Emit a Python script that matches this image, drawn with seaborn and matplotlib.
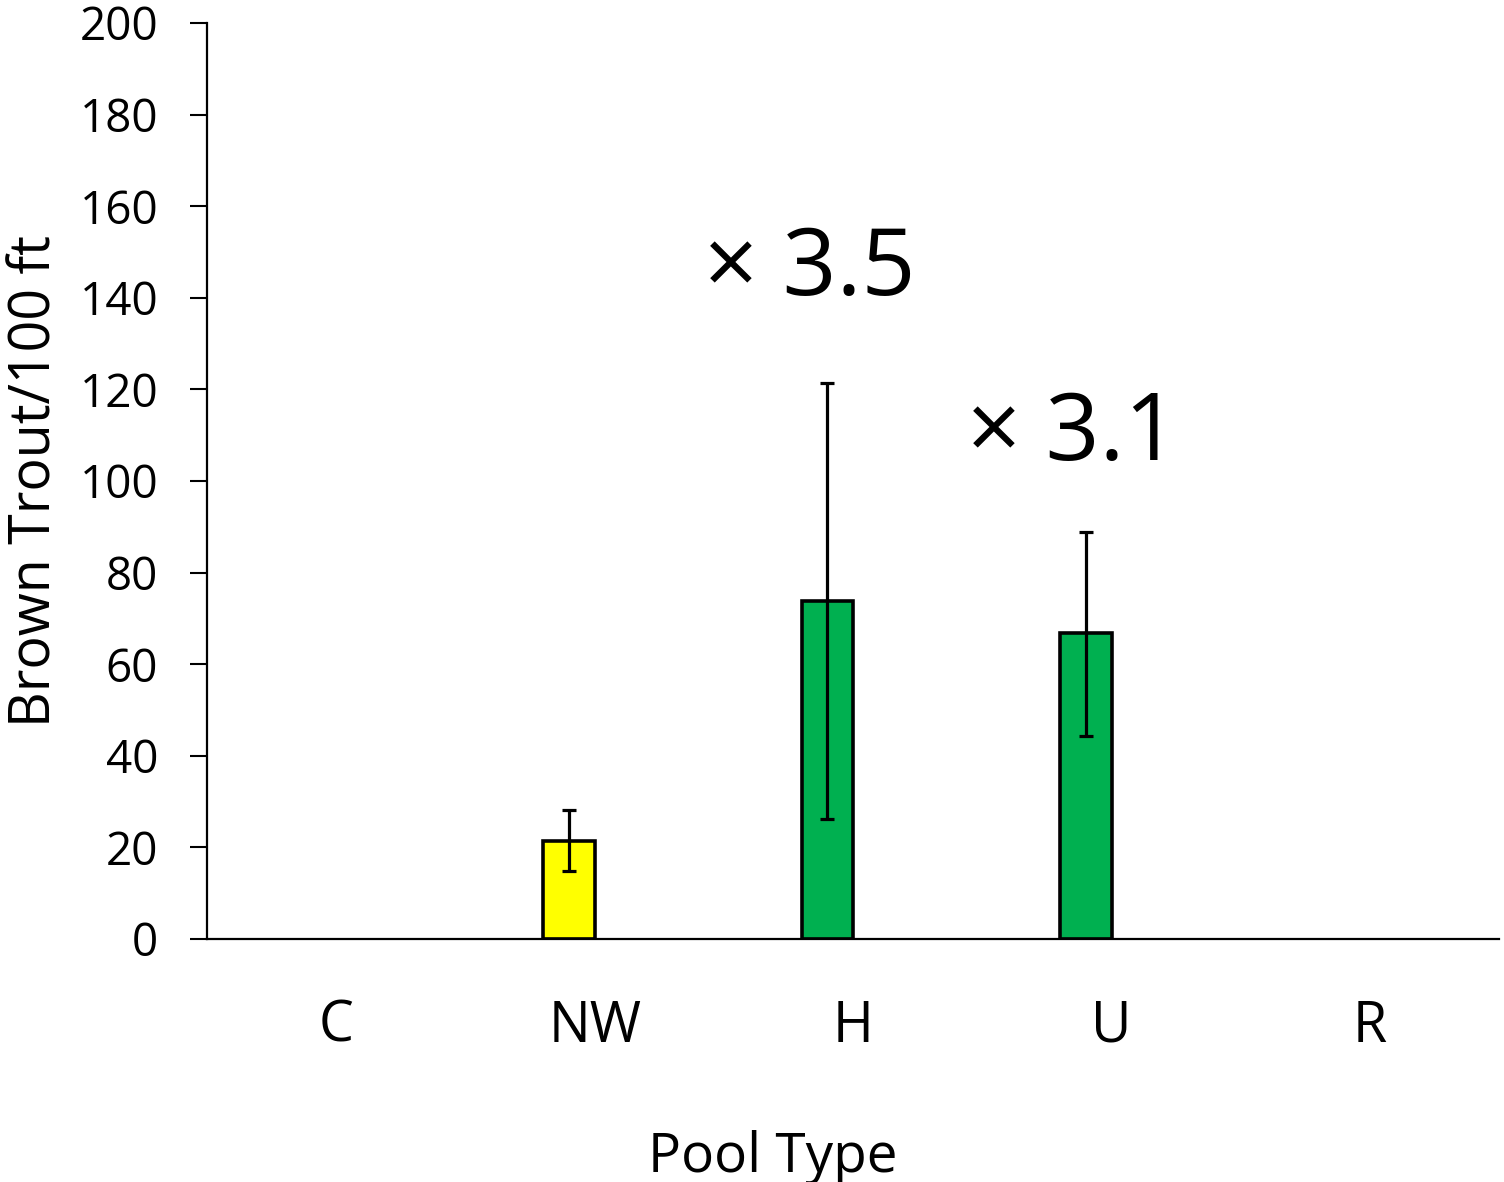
import matplotlib
matplotlib.use("Agg")
import matplotlib.pyplot as plt
import seaborn as sns
import pandas as pd
import numpy as np

# values
pools = ["C", "NW", "H", "U", "R"]
trout = [np.nan, 21.4, 73.8, 66.8, np.nan]
err_low = [np.nan, 14.8, 26.2, 44.3, np.nan]
err_high = [np.nan, 28.2, 121.4, 88.9, np.nan]
bar_colors = ["#FFFF00", "#FFFF00", "#00B050", "#00B050", "#00B050"]
ratio_labels = {"H": "\u00d7 3.5", "U": "\u00d7 3.1"}
ratio_x = {"H": 1.83, "U": 2.85}
ratio_y = {"H": 140.6, "U": 104.6}

sns.set_theme(style="white")
plt.rcParams["font.family"] = ["Open Sans", "DejaVu Sans"]
plt.rcParams["text.color"] = "black"
plt.rcParams["axes.labelcolor"] = "black"
plt.rcParams["xtick.color"] = "black"
plt.rcParams["ytick.color"] = "black"

# second (empty) series keeps the bars left of the category centre, as in the original
df = pd.DataFrame({
    "Pool": pools * 2,
    "Trout": trout + [np.nan] * len(pools),
    "Series": ["a"] * len(pools) + ["b"] * len(pools),
})

fig = plt.figure(figsize=(15.04, 11.82), dpi=100)
ax = fig.add_axes([0.1376, 0.2056, 0.8594, 0.775])

sns.barplot(data=df, x="Pool", y="Trout", hue="Series", order=pools,
            hue_order=["a", "b"], width=0.4, dodge=True, errorbar=None,
            legend=False, ax=ax, linewidth=2.6, edgecolor="black")

bars = [p for p in ax.patches if not np.isnan(p.get_height())]
for p in bars:
    i = int(round(p.get_x() + p.get_width() / 2 + 0.1))
    p.set_facecolor(bar_colors[i])
    p.set_edgecolor("black")
    p.set_linewidth(2.6)
    cx = p.get_x() + p.get_width() / 2
    ax.errorbar(cx, trout[i], yerr=[[trout[i] - err_low[i]], [err_high[i] - trout[i]]],
                fmt="none", ecolor="black", elinewidth=2.3, capsize=4.8, capthick=2.3)

for name, txt in ratio_labels.items():
    ax.text(ratio_x[name], ratio_y[name], txt, ha="center", va="baseline",
            fontsize=68, color="black")

ax.set_xlim(-0.5, 4.5)
ax.set_ylim(0, 200)
ax.set_yticks(range(0, 201, 20))
sns.despine(ax=ax)
for s in ["left", "bottom"]:
    ax.spines[s].set_color("black")
    ax.spines[s].set_linewidth(1.6)
ax.tick_params(axis="y", direction="out", length=12, width=1.5, color="black",
               labelsize=33, pad=23, left=True)
ax.tick_params(axis="x", length=0, labelsize=40, pad=43)
ax.set_xlabel("Pool Type", fontsize=39.5)
ax.xaxis.set_label_coords(0.438, -0.208)
ax.set_ylabel("Brown Trout/100 ft", fontsize=40, labelpad=11)

fig.savefig("out.png", dpi=100)
